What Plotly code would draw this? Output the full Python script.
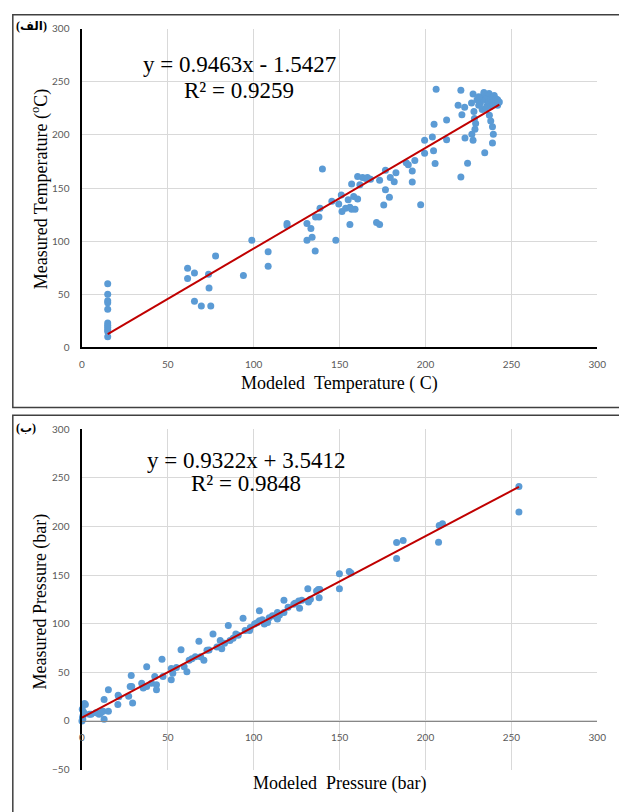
import plotly.graph_objects as go

W, H = 619, 812

# ---------------- data ----------------
temp_modeled = [
    15, 15, 15, 15, 15, 15, 15, 15, 15, 15, 15,
    61.5, 61.5, 65.5, 73.7, 77.8, 94, 65.5, 69.5, 75, 74,
    98.9, 108.4, 108.4, 119.4, 119.4, 131, 133.3, 131, 134, 135.8, 140, 138.6, 138, 136,
    145.5, 147.8, 151, 149.5, 151.4,
    153.5, 156, 157, 156, 155, 157, 158.2, 160.5, 159, 160.5, 161.8, 163.4, 165.3, 166.2,
    168, 173.3, 176.7, 179.5, 181.8, 182.8, 176.7, 179, 175.7, 171.5, 173.3, 188.8, 190,
    192.3, 192.3, 193.8,
    206.2, 220.6, 227.7, 219, 222.8, 226.8, 221.2, 228.2, 228.5, 229.2, 228.8, 227, 227.7,
    223, 224.5, 220.6, 234.5, 239, 239.5, 239, 238, 237.2, 212.3, 205, 212.3, 204, 199.5,
    204.7, 199.5, 205.6, 197.2,
    232, 233, 234, 235, 236, 236, 237, 237, 238, 238, 239, 239, 240, 240, 241, 241, 242,
    242, 243, 231, 233, 235, 230, 231, 234,
]
temp_measured = [
    60, 50, 44, 42, 36, 23, 21, 19, 17, 15, 10,
    74.5, 65, 70, 69, 86, 67.6, 43.5, 39, 39, 56,
    101, 90, 76.5, 116.7, 114.8, 116.7, 112, 101, 103.7, 90.7, 168, 131, 122.8, 122.8,
    137.7, 101, 143.5, 135, 128,
    131, 132, 130, 115.7, 138.9, 153.7, 142, 139.8, 130, 160.8, 153, 160, 159, 160,
    158.3, 157.4, 166.7, 160, 156, 164.5, 148.4, 141.4, 134, 117.6, 115.7, 173.8, 172,
    166, 155.8, 176,
    243, 242, 238.6, 228, 226, 230, 219, 222, 215.5, 210.8, 205.3, 200.6, 195,
    197, 173.4, 160.5, 183.3, 192.3, 200.6, 207.7, 213, 218.5, 214, 210, 195.4, 198, 195,
    185.2, 182.7, 173, 134.3,
    230, 235, 238, 233, 228, 236, 231, 239, 234, 227, 236, 229, 232, 237, 230, 234, 233,
    228, 231, 228, 224, 225, 233, 236, 240,
]

press_modeled = [
    0.6, 0.2, 2, 0.5, 4.3, 8.2, 10, 12.9, 12.3, 15.4, 15.4, 12.9, 20.9, 21.1, 27.2, 29,
    28.7, 29.5, 34.8, 35.7, 37.7, 37.7, 40.5, 42.4, 43.4, 43.4, 46.6, 47.2, 52, 52, 52.9,
    57.7, 59.5, 61.1, 62.4, 68.1, 69.1, 71, 72.8, 76.3, 78.6, 80.5, 81.4, 85.2, 86.2,
    89.6, 93.8, 97.6, 100.5, 103.3,
    103.3, 106.2, 108.1, 110.9, 113.8, 113.8, 117.6, 117.6, 123.3, 126.2, 126.7, 131.5,
    131.9, 136.6, 138.5, 138.1, 149.9, 149.9, 155.6, 156.6,
    254.4, 254.4, 208, 209.9, 207.6, 183.2, 187, 183.2, 137.6,
    0, 0.3, 1, 1.5, 5.3, 11, 21.5, 28.1,
    55, 64, 66, 74, 83, 88, 91, 95, 98, 102, 105, 109, 112, 115, 120, 124, 128, 133,
]
press_measured = [
    5, 12, 17, 1.7, 6.8, 8.4, 6.8, 22, 10, 10, 32, 1.7, 17, 26.4, 25.3, 35.5,
    46.6, 18.5, 38.8, 33.8, 55.7, 35.5, 38.8, 45.6, 37.2, 32.1, 63.5, 45.6, 54, 42.3, 49,
    73.3, 55.7, 50.7, 62.5, 82, 65.9, 62.5, 72.7, 89.5, 76, 82.8, 74.3, 98, 82.8,
    89.5, 105.7, 92.9, 99.6, 113.2,
    103, 99.6, 101.3, 108.1, 104.7, 111.5, 124, 111.5, 119.9, 123.3, 115.8, 135.8,
    122.3, 133.5, 135.1, 126.7, 151.3, 135.8, 153.7, 152,
    240.9, 214.9, 201, 202.7, 183.7, 183.4, 185.5, 166.9, 135.1,
    0, 3, 9, 18, 7, 8.4, 25, 35.5,
    55, 64, 66, 73, 80, 85, 88, 93, 96, 101, 104, 106, 108, 109, 117, 121, 124, 125,
]

temp_fit = (0.9463, -1.5427)
press_fit = (0.9322, 3.5412)

x_ticks = [0, 50, 100, 150, 200, 250, 300]
temp_y_ticks = [0, 50, 100, 150, 200, 250, 300]
press_y_ticks = [-50, 0, 50, 100, 150, 200, 250, 300]

temp_eq = "y = 0.9463x - 1.5427"
temp_r2 = "R² = 0.9259"
press_eq = "y = 0.9322x + 3.5412"
press_r2 = "R² = 0.9848"

# ---------------- helpers ----------------
def px(x):
    return x / W


def py(y):
    return 1 - y / H


X_DOM = [px(80.5), px(606)]
Y1_DOM = [py(346), py(22)]
Y2_DOM = [py(775), py(429)]
zero_pos2 = Y2_DOM[0] + (Y2_DOM[1] - Y2_DOM[0]) * (0 - (-50)) / 350

BLUE = "#5B9BD5"
RED = "#C00000"
GRID = "#d9d9d9"
TICKFONT = dict(family="Lato, Liberation Sans, sans-serif", size=10, color="#595959")
SERIF = "Liberation Serif, Times New Roman, DejaVu Serif, DejaVu Sans, serif"

fig = go.Figure()

fig.add_trace(go.Scatter(
    x=temp_modeled, y=temp_measured, mode="markers",
    marker=dict(color=BLUE, size=7), cliponaxis=False,
    xaxis="x", yaxis="y", hoverinfo="x+y",
))
tx = [min(temp_modeled), max(temp_modeled)]
fig.add_trace(go.Scatter(
    x=tx, y=[temp_fit[0] * v + temp_fit[1] for v in tx], mode="lines",
    line=dict(color=RED, width=2), xaxis="x", yaxis="y",
))

fig.add_trace(go.Scatter(
    x=press_modeled, y=press_measured, mode="markers",
    marker=dict(color=BLUE, size=7), cliponaxis=False,
    xaxis="x2", yaxis="y2", hoverinfo="x+y",
))
pxr = [min(press_modeled), max(press_modeled)]
fig.add_trace(go.Scatter(
    x=pxr, y=[press_fit[0] * v + press_fit[1] for v in pxr], mode="lines",
    line=dict(color=RED, width=2), xaxis="x2", yaxis="y2",
))

common = dict(showgrid=True, gridcolor=GRID, gridwidth=1, zeroline=False,
              ticks="", tickfont=TICKFONT, fixedrange=True)

fig.update_layout(
    width=W, height=H,
    margin=dict(l=0, r=0, t=0, b=0),
    paper_bgcolor="white", plot_bgcolor="white",
    showlegend=False,
    xaxis=dict(domain=X_DOM, range=[0, 300], tickvals=x_ticks, anchor="y",
               showline=True, linecolor="black", linewidth=1.5,
               ticklabelstandoff=7, **common),
    yaxis=dict(domain=Y1_DOM, range=[0, 300], tickvals=temp_y_ticks, anchor="x",
               showline=True, linecolor="black", linewidth=1.5,
               ticklabelstandoff=9, **common),
    xaxis2=dict(domain=X_DOM, range=[0, 300], tickvals=x_ticks, anchor="free",
                position=zero_pos2, showline=True, linecolor="#878787", linewidth=1.5,
                ticklabelstandoff=7, **common),
    yaxis2=dict(domain=Y2_DOM, range=[-50, 300], tickvals=press_y_ticks, anchor="x2",
                showline=True, linecolor="black", linewidth=1.5,
                ticklabelstandoff=9, **common),
)

# panel frames
fig.add_shape(type="rect", xref="paper", yref="paper",
              x0=px(10), x1=px(630), y0=py(407), y1=py(8),
              line=dict(color="#404040", width=1.5), layer="below")
fig.add_shape(type="rect", xref="paper", yref="paper",
              x0=px(10), x1=px(630), y0=py(825), y1=py(415),
              line=dict(color="#404040", width=1.5), layer="below")

def ann(text, x, y, size, angle=0, bold=False, xanchor="center"):
    fig.add_annotation(
        text=("<b>%s</b>" % text) if bold else text,
        xref="paper", yref="paper", x=px(x), y=py(y),
        xanchor=xanchor, yanchor="middle", showarrow=False,
        textangle=angle, font=dict(family=SERIF, size=size, color="black"),
    )

ann(temp_eq, 241, 58, 23)
ann(temp_r2, 241, 85, 23)
ann(press_eq, 248, 461, 23)
ann(press_r2, 248, 484, 23)

ann("Modeled\u00a0\u00a0Temperature ( C)", 343, 383, 18)
ann("Measured Temperature (<sup>o</sup>C)", 38, 185, 18, angle=-90)
ann("Modeled\u00a0\u00a0Pressure (bar)", 343, 789, 18)
ann("Measured Pressure (bar)", 38, 604, 18, angle=-90)

ann("\u200e(الف)\u200e", 11, 19, 12, bold=True, xanchor="left")
ann("\u200e(ب)\u200e", 11, 428, 12, bold=True, xanchor="left")

fig.write_html(
    "out.html",
    config={"displayModeBar": False, "staticPlot": True},
    post_script="document.body.style.margin='0';document.body.style.overflow='hidden';",
)
